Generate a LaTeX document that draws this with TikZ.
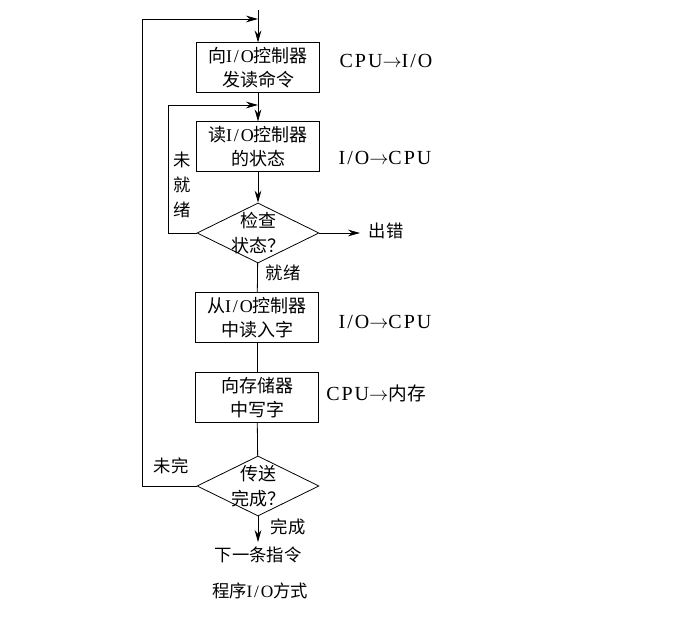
\documentclass[tikz,border=0pt]{standalone}
\usepackage{fontspec}
\setmainfont{Noto Sans CJK SC}
\newfontfamily\romanfont{Liberation Serif}
\newfontfamily\romanwide[LetterSpace=10]{Liberation Serif}
\usetikzlibrary{shapes.geometric,arrows.meta}
\newcommand{\io}{{\romanwide I/O}}
\tikzset{
  box/.style={draw, minimum width=92pt, minimum height=37pt, inner sep=0pt,
    align=center, font=\fontsize{13.5}{18}\selectfont},
  test/.style={draw, diamond, minimum width=91.5pt, minimum height=45pt, inner sep=0pt},
  testtext/.style={align=center, inner sep=0pt, font=\fontsize{13.5}{18.5}\selectfont},
  flow/.style={-{Stealth[length=9pt,width=5pt]}},
  note/.style={font=\fontsize{13}{18}\selectfont},
  bus/.style={font=\romanwide\fontsize{15}{17}\selectfont}
}

\begin{document}
\begin{tikzpicture}[x=0.75pt, y=-0.75pt, line width=0.6pt]
\useasboundingbox[fill=white] (0,0) rectangle (687,634);
\coordinate (top) at (258,10);
\coordinate (j1) at (258,19);
\coordinate (j2) at (258,105);
\coordinate (err) at (360,233);
\node[box] (send) at (258,67.5) {向\io 控制器\\发读命令};
\node[box] (read) at (258,146.5) {读\io 控制器\\的状态};
\node[test, label={[testtext]center:检查\\状态？}] (check) at (258,233) {};
\node[box] (fetch) at (257,317.5) {从\io 控制器\\中读入字};
\node[box] (store) at (257,397.5) {向存储器\\中写字};
\node[test, label={[testtext]center:传送\\完成？}] (done) at (258,486) {};
\node[note] (next) at (258,555) {下一条指令};
\node[note] (title) at (260,591) {程序\io 方式};
\node[note, anchor=west] (errtxt) at (364,231) {出错};
\node[note] (ready) at (283,273) {就绪};
\node[note, align=center, font=\fontsize{13}{18.5}\selectfont] (notready) at (182,185) {未\\就\\绪};
\node[note] (notdone) at (171,466) {未完};
\node[note] (fin) at (288,527) {完成};
\node[bus] (bus1) at (386,61) {CPU$\rightarrow$I/O};
\node[bus] (bus2) at (385,158) {I/O$\rightarrow$CPU};
\node[bus] (bus3) at (385,322) {I/O$\rightarrow$CPU};
\node[bus] (bus4) at (376,393) {CPU$\rightarrow${\rmfamily\fontsize{14}{16}\selectfont 内存}};
\draw[flow] (top) -- (send);
\draw[flow] (send) -- (read);
\draw[flow] (read) -- (check);
\draw[flow] (check.west) -- ++(-28,0) |- (j2);
\draw[flow] (check.east) -- (err);
\draw (check) -- (fetch);
\draw (fetch) -- (store);
\draw (store) -- (done);
\draw[flow] (done.west) -- ++(-54,0) |- (j1);
\draw[flow] (done) -- (next);
\end{tikzpicture}
\end{document}
